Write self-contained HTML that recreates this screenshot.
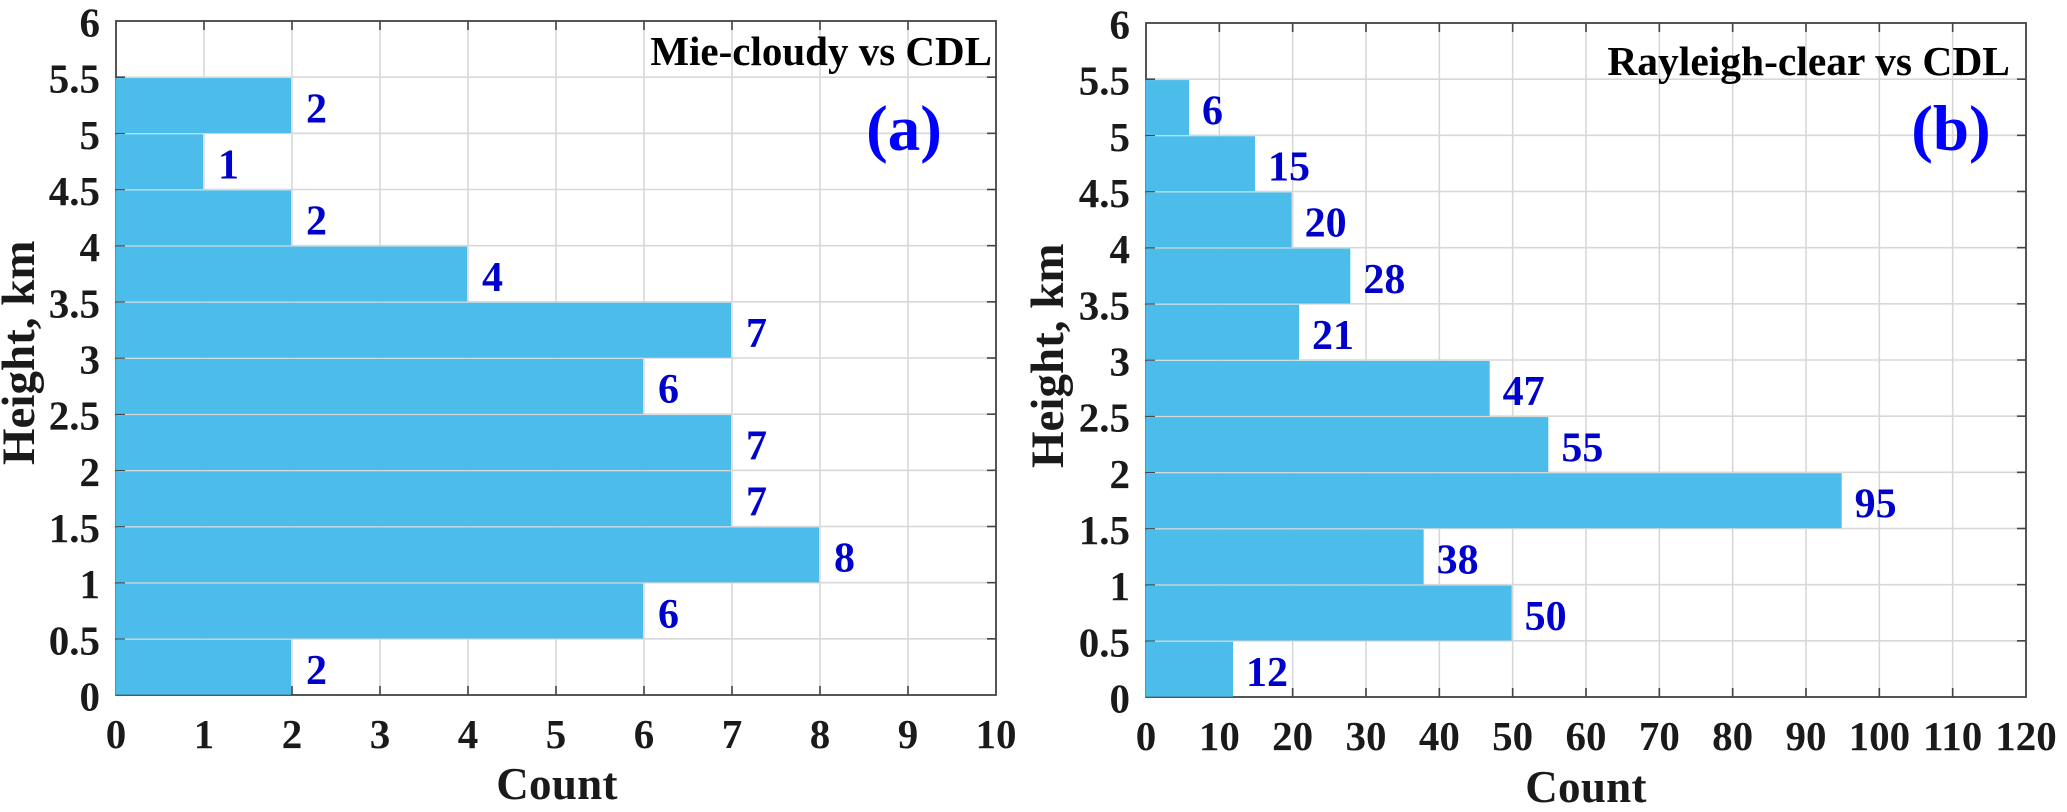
<!DOCTYPE html>
<html>
<head>
<meta charset="utf-8">
<title>Height histograms: Mie-cloudy and Rayleigh-clear vs CDL</title>
<style>
html,body{margin:0;padding:0;background:#fff;}
svg{display:block;font-family:"Liberation Serif","Times New Roman",serif;font-weight:bold;}
</style>
</head>
<body>
<svg id="figure" xmlns="http://www.w3.org/2000/svg" width="2067" height="812" viewBox="0 0 2067 812"></svg>
<script>
const heightBinStarts = [0, 0.5, 1, 1.5, 2, 2.5, 3, 3.5, 4, 4.5, 5];
const binWidth = 0.5;
const mieCounts = [2, 6, 8, 7, 7, 6, 7, 4, 2, 1, 2];
const rayleighCounts = [12, 50, 38, 95, 55, 47, 21, 28, 20, 15, 6];
const yTickLabels = ['0', '0.5', '1', '1.5', '2', '2.5', '3', '3.5', '4', '4.5', '5', '5.5', '6'];
const mieXTickLabels = ['0', '1', '2', '3', '4', '5', '6', '7', '8', '9', '10'];
const rayleighXTickLabels = ['0', '10', '20', '30', '40', '50', '60', '70', '80', '90', '100', '110', '120'];

const svg = document.getElementById('figure');
const NS = 'http://www.w3.org/2000/svg';

function mk(tag, attrs, parent, text) {
  const el = document.createElementNS(NS, tag);
  for (const k in attrs) el.setAttribute(k, attrs[k]);
  if (text !== undefined) el.textContent = text;
  parent.appendChild(el);
  return el;
}

function drawPanel(p) {
  const x = v => p.left + (v - p.xMin) / (p.xMax - p.xMin) * (p.right - p.left);
  const y = v => p.bottom - (v - p.yMin) / (p.yMax - p.yMin) * (p.bottom - p.top);

  const g = mk('g', {}, svg);
  
  

  // gridlines
  p.xLabels.forEach(l => {
    const v = parseFloat(l);
    if (v === p.xMin || v === p.xMax) return;
    const gl = mk('line', {x1: x(v), x2: x(v), y1: p.top, y2: p.bottom, stroke: '#d8d8d8', 'stroke-width': 1.6}, g);
    
    
  });
  yTickLabels.forEach(l => {
    const v = parseFloat(l);
    if (v === p.yMin || v === p.yMax) return;
    const gl = mk('line', {x1: p.left, x2: p.right, y1: y(v), y2: y(v), stroke: '#d8d8d8', 'stroke-width': 1.6}, g);
    
    
  });

  // axes box
  const box = mk('rect', {x: p.left, y: p.top, width: p.right - p.left, height: p.bottom - p.top, fill: 'none', stroke: '#444', 'stroke-width': 1.8}, g);
  
  

  // tick marks
  p.xLabels.forEach(l => {
    const v = parseFloat(l);
    if (v === p.xMin || v === p.xMax) return;
    const t1 = mk('line', {x1: x(v), x2: x(v), y1: p.bottom, y2: p.bottom - 9, stroke: '#444', 'stroke-width': 1.6}, g);
    
    
    const t2 = mk('line', {x1: x(v), x2: x(v), y1: p.top, y2: p.top + 9, stroke: '#444', 'stroke-width': 1.6}, g);
    
    
  });
  yTickLabels.forEach(l => {
    const v = parseFloat(l);
    if (v === p.yMin || v === p.yMax) return;
    const t1 = mk('line', {x1: p.left, x2: p.left + 9, y1: y(v), y2: y(v), stroke: '#444', 'stroke-width': 1.6}, g);
    
    
    const t2 = mk('line', {x1: p.right, x2: p.right - 9, y1: y(v), y2: y(v), stroke: '#444', 'stroke-width': 1.6}, g);
    
    
  });

  // bars and their printed counts
  p.counts.forEach((c, i) => {
    const y0 = y(heightBinStarts[i]);
    const y1 = y(heightBinStarts[i] + binWidth);
    const bar = mk('rect', {x: x(0) - 0.5, y: y1 + 0.9, width: x(c) - x(0) - 0.5, height: y0 - y1 - 1.2, fill: '#4cbcea'}, g);
    
    
    const lab = mk('text', {x: x(c) + p.labelGap, y: (y0 + y1) / 2 + 17, 'font-size': 42, fill: '#0000cc'}, g, String(c));
    
    
  });

  // tick labels
  p.xLabels.forEach(l => {
    const t = mk('text', {x: x(parseFloat(l)), y: p.bottom + 53, 'font-size': 41, fill: '#1a1a1a', 'text-anchor': 'middle'}, g, l);
    
    
  });
  yTickLabels.forEach(l => {
    const t = mk('text', {x: p.left - 16, y: y(parseFloat(l)) + 15.5, 'font-size': 41, fill: '#1a1a1a', 'text-anchor': 'end'}, g, l);
    
    
  });

  // axis titles
  const xt = mk('text', {x: p.xTitleX, y: p.xTitleY, 'font-size': 45, fill: '#1a1a1a', 'text-anchor': 'middle', 'letter-spacing': 0.3}, g, 'Count');
  
  
  const yt = mk('text', {transform: 'translate(' + p.yTitleX + ',' + p.yTitleY + ') rotate(-90)', 'font-size': 47, fill: '#1a1a1a'}, g, 'Height, km');
  
  

  // panel title and panel letter
  const title = mk('text', {x: p.titleX, y: p.titleY, 'font-size': p.titleSize, fill: '#000', 'text-anchor': 'end'}, g, p.title);
  
  
  const letter = mk('text', {x: p.letterX, y: 150, 'font-size': 65, fill: '#0000ff', 'text-anchor': 'middle'}, g, p.letter);
  
  
}

drawPanel({
  key: 'mie-cloudy', counts: mieCounts, xLabels: mieXTickLabels,
  left: 116, right: 996, top: 21, bottom: 695,
  xMin: 0, xMax: 10, yMin: 0, yMax: 6, labelGap: 14,
  xTitleX: 557, xTitleY: 799, yTitleX: 34, yTitleY: 465,
  title: 'Mie-cloudy vs CDL', titleX: 992, titleY: 65, titleSize: 41,
  letter: '(a)', letterX: 904
});
drawPanel({
  key: 'rayleigh-clear', counts: rayleighCounts, xLabels: rayleighXTickLabels,
  left: 1146, right: 2026, top: 23, bottom: 697,
  xMin: 0, xMax: 120, yMin: 0, yMax: 6, labelGap: 12,
  xTitleX: 1586, xTitleY: 802, yTitleX: 1063, yTitleY: 468,
  title: 'Rayleigh-clear vs CDL', titleX: 2010, titleY: 75, titleSize: 41.5,
  letter: '(b)', letterX: 1951
});
</script>
</body>
</html>
